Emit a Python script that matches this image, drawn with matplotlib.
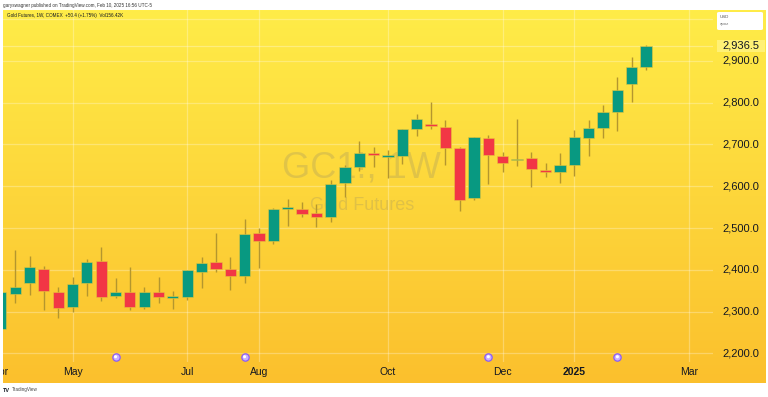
import numpy as np
import pandas as pd
import matplotlib
matplotlib.use("Agg")
import matplotlib.pyplot as plt
from matplotlib.patches import FancyBboxPatch, Rectangle
import matplotlib.transforms as mtransforms

plt.rcParams['font.family'] = ['Liberation Sans', 'DejaVu Sans']

# ---------------- data ----------------
week_start = "2024-04-01"
n_weeks = 46
opens = [2257.5, 2342, 2369, 2402, 2346, 2312, 2369, 2420, 2337, 2346,
         2310, 2347, 2332.5, 2336, 2395.5, 2418, 2401, 2386, 2489, 2469,
         2546, 2545, 2535, 2526, 2607, 2645.5, 2679, 2671, 2673, 2736.5,
         2750, 2743, 2692, 2571, 2715, 2672.5, 2663.6, 2667, 2639, 2635,
         2651.7, 2716, 2739, 2778, 2845.6, 2886]
highs = [2372, 2447, 2433, 2408, 2358, 2383, 2427, 2454, 2380, 2406,
         2358, 2382, 2350, 2400, 2430, 2487, 2431, 2522, 2499, 2549,
         2569.5, 2563, 2557, 2615, 2651, 2708.5, 2695, 2686, 2738, 2773,
         2802, 2758.7, 2693, 2718, 2723, 2683, 2760, 2683, 2655, 2680,
         2735, 2759, 2795, 2862.5, 2910, 2938]
lows = [2248, 2321, 2340, 2304, 2285, 2300, 2337, 2326, 2333, 2304,
        2305, 2320, 2305, 2327, 2356, 2395.5, 2352, 2368, 2404, 2462,
        2506, 2526, 2502, 2515, 2574, 2637, 2647, 2619, 2653, 2720,
        2736.5, 2651, 2541.5, 2568, 2605.5, 2635, 2649, 2597.6, 2623, 2608.6,
        2625, 2672, 2716, 2732, 2802.6, 2878]
closes = [2347.6, 2359.5, 2406, 2349, 2309, 2366, 2418, 2336, 2346, 2310,
          2347.6, 2334, 2336.6, 2399.5, 2415.6, 2402, 2385, 2485, 2470, 2545.6,
          2551, 2534.5, 2526, 2605.5, 2646, 2680.5, 2674, 2674, 2736.5, 2760.4,
          2745, 2691, 2567, 2717, 2674, 2655, 2666, 2640.7, 2635, 2651.7,
          2717, 2739.6, 2777, 2830.6, 2885.6, 2936.5]
last_price = 2936.5
price_ticks = [2200, 2300, 2400, 2500, 2600, 2700, 2800, 2900]
grid_prices = [2200, 2300, 2400, 2500, 2600, 2700, 2800, 2900, 3000]
time_tick_dates = ["2024-04-01", "2024-05-06", "2024-07-01", "2024-08-05",
                   "2024-10-07", "2024-12-02", "2025-01-06", "2025-03-03"]
time_tick_labels = ["Apr", "May", "Jul", "Aug", "Oct", "Dec", "2025", "Mar"]
roll_dates = ["2024-05-27", "2024-07-29", "2024-11-25", "2025-01-27"]

dates = pd.date_range(week_start, periods=n_weeks, freq="7D")
t0 = dates[0]
xs = np.array([(d - t0).days / 7 for d in dates])
tick_x = [(pd.Timestamp(d) - t0).days / 7 for d in time_tick_dates]
roll_x = [(pd.Timestamp(d) - t0).days / 7 for d in roll_dates]

# ---------------- layout ----------------
W, H = 768, 397
fig = plt.figure(figsize=(W / 100, H / 100), dpi=100)
fig.patch.set_facecolor("white")


def rect(x0, y0, x1, y1):
    return [x0 / W, 1 - y1 / H, (x1 - x0) / W, (y1 - y0) / H]


# gradient background
bg = fig.add_axes(rect(3, 10, 766, 383))
top = np.array([255, 236, 72]) / 255
bot = np.array([251, 192, 45]) / 255
t = np.linspace(0, 1, 256)[:, None]
grad = (top[None, :] * (1 - t) + bot[None, :] * t)[:, None, :]
bg.imshow(grad, aspect="auto", extent=[0, 1, 0, 1], origin="upper")
bg.set_axis_off()

ax = fig.add_axes(rect(3, 10, 713, 362))
ax.set_facecolor("none")
ax.set_xlim(0.15, 49.67)
ax.set_ylim(2179.2, 3022)
for s in ax.spines.values():
    s.set_visible(False)
ax.set_xticks([])
ax.set_yticks([])

# grid
for gp in grid_prices:
    ax.axhline(gp, color="white", alpha=0.28, lw=0.9, zorder=1)
for tx in tick_x[1:]:
    ax.axvline(tx, color="white", alpha=0.28, lw=0.9, zorder=1)
ax.axhline(last_price, color="white", alpha=0.3, lw=0.9, zorder=1)

# watermark
ax.text(0.5047, 0.551, "GC1!, 1W", transform=ax.transAxes, ha="center", va="center",
        fontsize=26, color="#7d7a70", alpha=0.22, zorder=2)
ax.text(0.5061, 0.444, "Gold Futures", transform=ax.transAxes, ha="center", va="center",
        fontsize=13, color="#7d7a70", alpha=0.22, zorder=2)

# candles
green, red = "#089981", "#F23645"
wick_c = "#B4962E"
ax.vlines(xs, lows, highs, color=wick_c, lw=1.0, zorder=3)
min_h = 1.6
for x, o, h, l, c in zip(xs, opens, highs, lows, closes):
    col = green if c >= o else red
    b = min(o, c)
    hgt = max(abs(c - o), min_h)
    if abs(c - o) < min_h:
        b = (o + c) / 2 - min_h / 2
    ax.add_patch(Rectangle((x - 0.39, b), 0.78, hgt, facecolor=col,
                           edgecolor="#E9C53A", lw=0.4, zorder=4))

# contract roll markers
trans = mtransforms.blended_transform_factory(ax.transData, ax.transAxes)
ax.scatter(roll_x, [0.015] * len(roll_x), s=28, facecolor="#C9B0FF",
           edgecolor="#8B5CF6", lw=0.9, transform=trans, zorder=6, clip_on=False)
ax.scatter(roll_x, [0.015] * len(roll_x), s=5, facecolor="white",
           edgecolor="none", transform=trans, zorder=7, clip_on=False)

# time axis
tax = fig.add_axes(rect(3, 362, 713, 383))
tax.set_facecolor("none")
tax.set_xlim(ax.get_xlim())
tax.set_ylim(0, 1)
tax.set_axis_off()
for tx, lab in zip(tick_x, time_tick_labels):
    tax.text(tx, 0.52, lab, ha="center", va="center", fontsize=7.5,
             color="#131722", fontweight="bold" if lab == "2025" else "normal",
             clip_on=True)

# price axis
pax = fig.add_axes(rect(713, 10, 766, 362))
pax.set_facecolor("none")
pax.set_xlim(0, 1)
pax.set_ylim(ax.get_ylim())
pax.set_axis_off()
for p in price_ticks:
    pax.text(0.52, p, f"{p:,.1f}", ha="center", va="center", fontsize=8,
             color="#131722")
pax.add_patch(Rectangle((0.07, last_price - 14), 0.92, 28, facecolor="#FFF176",
                        edgecolor="none", zorder=1))
pax.text(0.52, last_price, f"{last_price:,.1f}", ha="center", va="center",
         fontsize=8, color="#131722", zorder=2)

# USD box
fig.patches.append(FancyBboxPatch((717 / W, 1 - 30 / H), 46 / W, 18 / H,
                                  boxstyle="round,pad=0,rounding_size=0.003",
                                  transform=fig.transFigure, facecolor="white",
                                  edgecolor="none", zorder=5))
fig.text(720 / W, 1 - 16.5 / H, "USD", fontsize=3.2, color="#555555", va="center", zorder=6)
fig.text(720 / W, 1 - 24.5 / H, "apoz", fontsize=3.2, color="#777777", va="center", zorder=6)

# header / footer
fig.text(3 / W, 1 - 5.5 / H, "garyswagner published on TradingView.com, Feb 10, 2025 16:56 UTC-5",
         fontsize=3.3, color="#333333", va="center")
fig.text(7 / W, 1 - 16 / H, "Gold Futures, 1W, COMEX  +50.4 (+1.75%)  Vol156.42K",
         fontsize=3.3, color="#131722", va="center")
fig.text(3 / W, 1 - 390 / H, "TV", fontsize=4, fontweight="bold", color="#131722", va="center")
fig.text(12 / W, 1 - 390 / H, "TradingView", fontsize=3.3, color="#444444", va="center")

fig.savefig("out.png", dpi=100)
